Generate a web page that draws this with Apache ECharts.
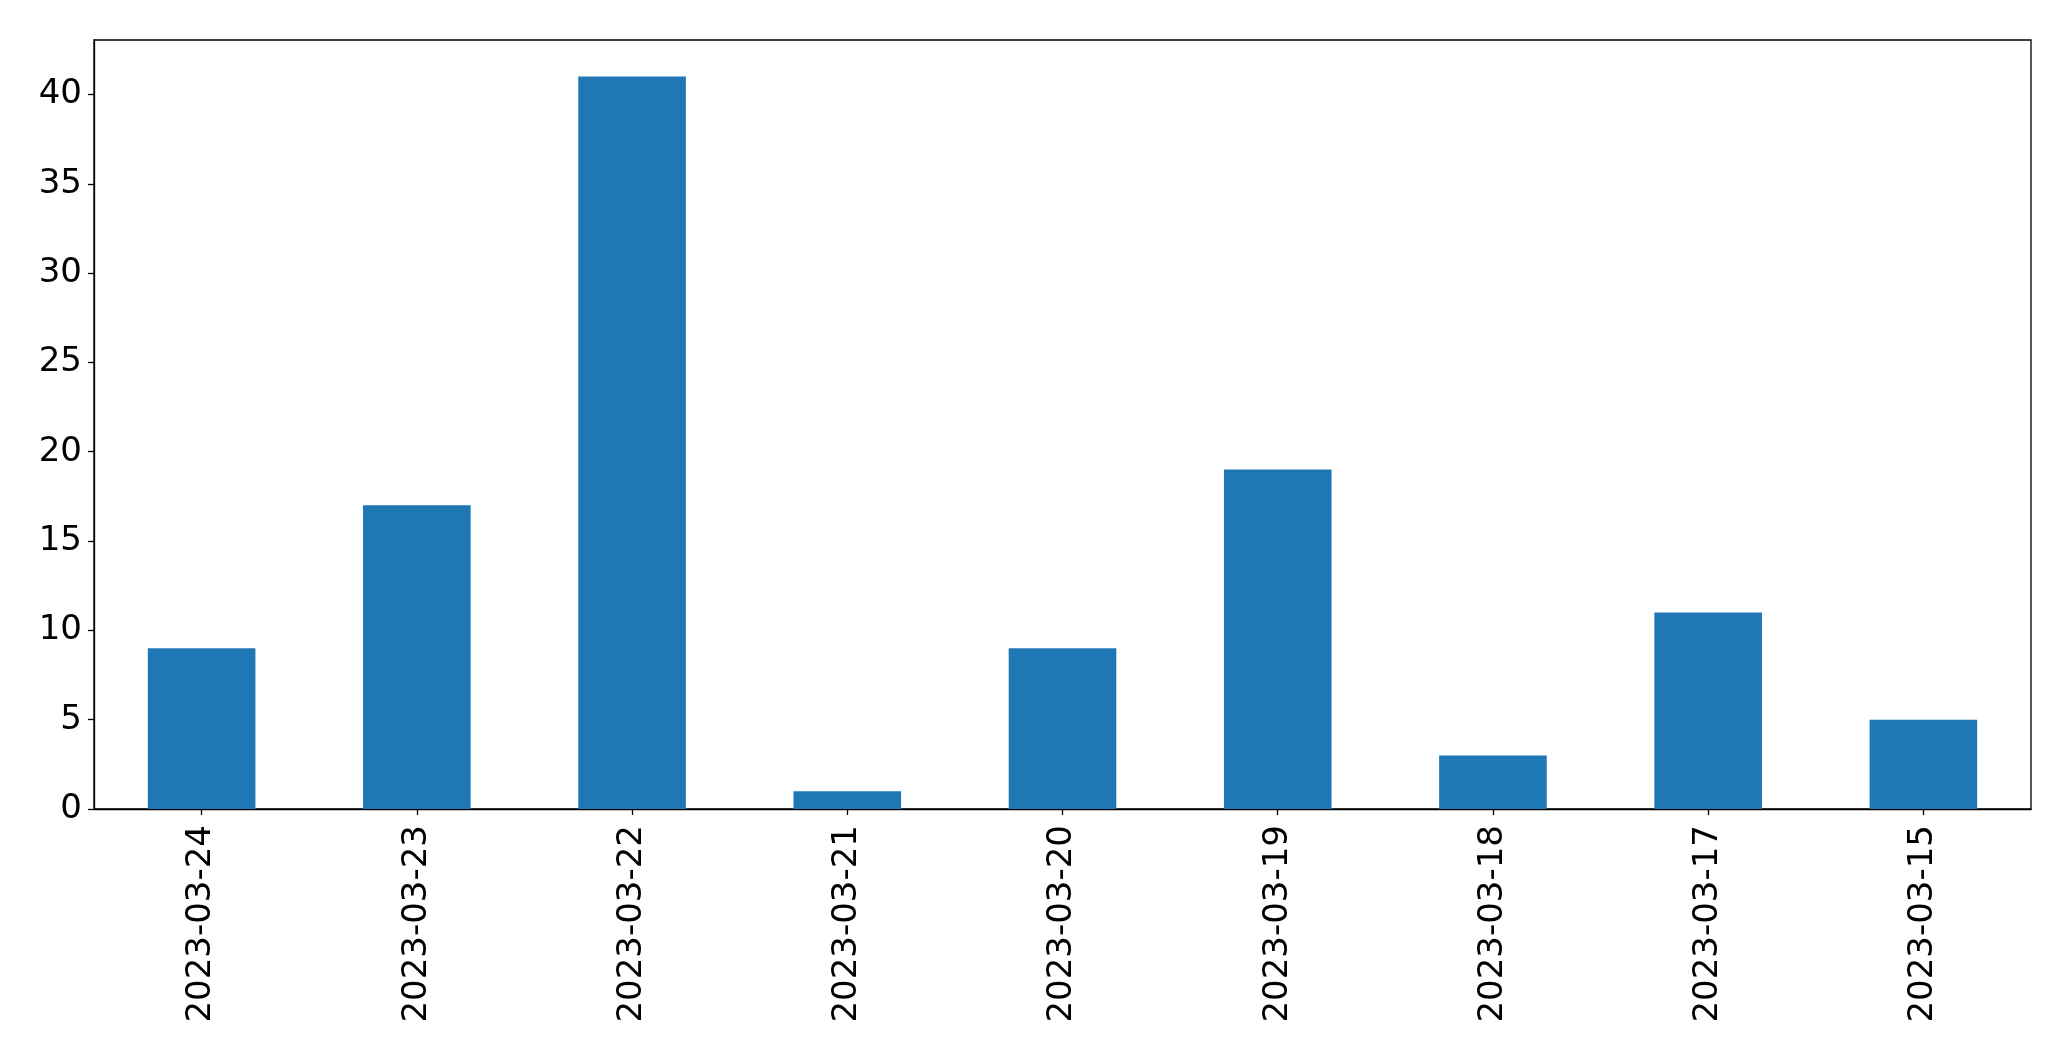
<!DOCTYPE html>
<html>
<head>
<meta charset="utf-8">
<script src="https://cdn.jsdelivr.net/npm/echarts@6/dist/echarts.min.js"></script>
<style>html,body{margin:0;padding:0;background:#fff}#c{width:2071px;height:1061px}</style>
</head>
<body>
<div id="c"></div>
<script>
const categories = ['2023-03-24','2023-03-23','2023-03-22','2023-03-21','2023-03-20','2023-03-19','2023-03-18','2023-03-17','2023-03-15'];
const values = [9, 17, 41, 1, 9, 19, 3, 11, 5];
const yTicks = [0, 5, 10, 15, 20, 25, 30, 35, 40];

const chart = echarts.init(document.getElementById('c'), null, {renderer: 'canvas'});
const font = 'DejaVu Sans';
chart.setOption({
  animation: false,
  backgroundColor: '#fff',
  grid: {left: 94, right: 40, top: 40, bottom: 252, show: true, borderColor: '#000', borderWidth: 1.3, backgroundColor: 'transparent'},
  xAxis: {
    type: 'category',
    data: categories,
    axisLine: {show: true, lineStyle: {color: '#000', width: 1.3}},
    axisTick: {show: true, alignWithLabel: true, length: 6, lineStyle: {color: '#000', width: 1.3}},
    axisLabel: {rotate: 90, fontSize: 34, fontFamily: font, color: '#000', margin: 16, interval: 0}
  },
  yAxis: {
    type: 'value',
    min: 0,
    max: 43.05,
    interval: 5,
    splitLine: {show: false},
    axisLine: {show: true, lineStyle: {color: '#000', width: 1.3}},
    axisTick: {show: true, length: 6, lineStyle: {color: '#000', width: 1.3}},
    axisLabel: {
      fontSize: 34, fontFamily: font, color: '#000', margin: 12, showMaxLabel: false,
      formatter: v => yTicks.includes(v) ? String(v) : ''
    }
  },
  series: [{
    type: 'bar',
    data: values,
    barWidth: '50%',
    itemStyle: {color: '#1f77b4'}
  }]
});
</script>
</body>
</html>
